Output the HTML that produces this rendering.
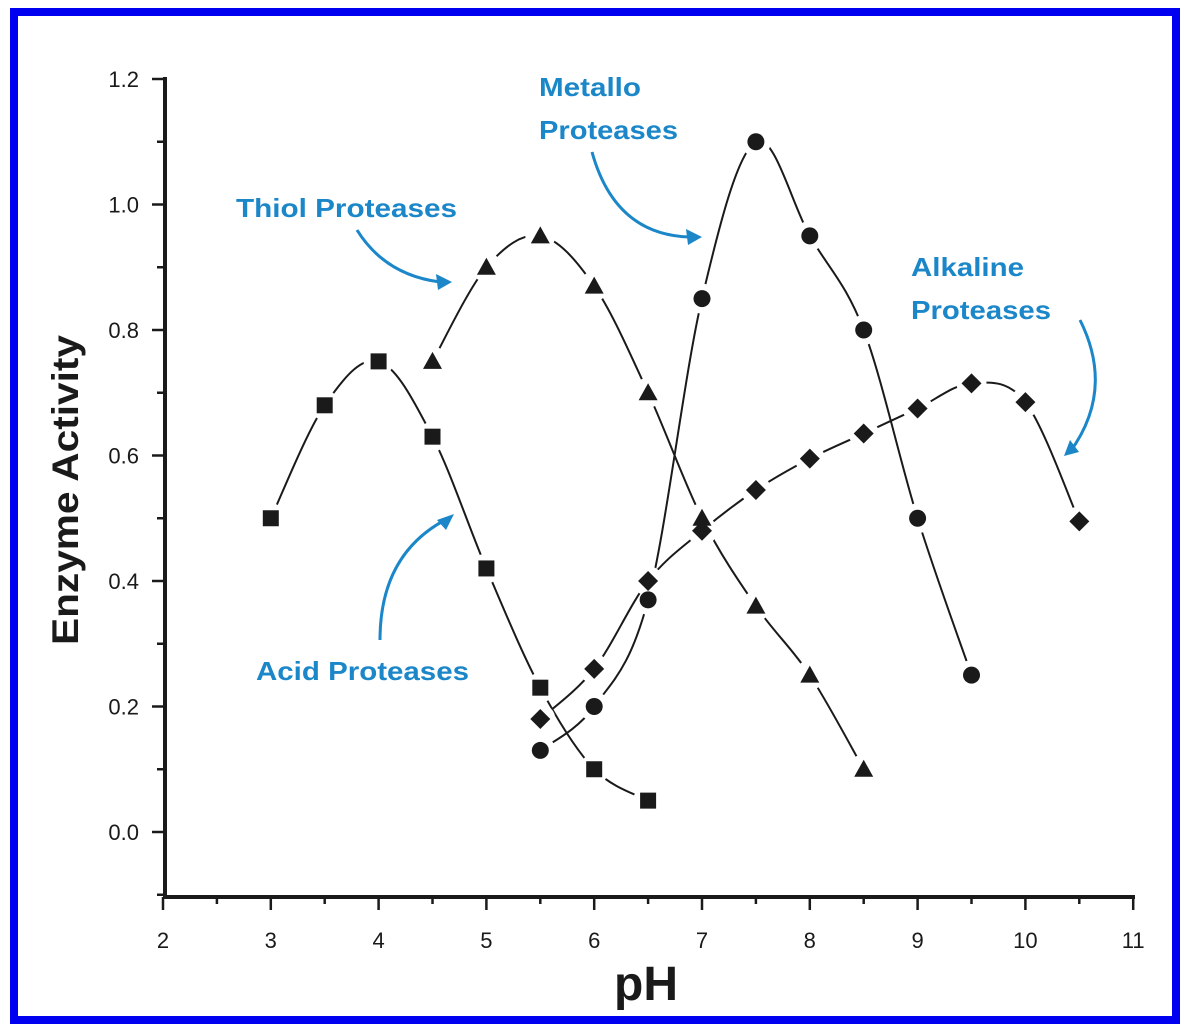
<!DOCTYPE html>
<html><head><meta charset="utf-8"><style>
html,body{margin:0;padding:0;background:#fff}
svg{display:block;font-family:"Liberation Sans",Arial,sans-serif}
</style></head><body>
<svg id="s" width="1188" height="1035" viewBox="0 0 1188 1035" xmlns="http://www.w3.org/2000/svg">
<rect x="14" y="12" width="1162" height="1008" fill="#fff" stroke="#0000f0" stroke-width="8"/>
<g stroke="#1a1a1a" fill="none">
<line x1="165" y1="77" x2="165" y2="899" stroke-width="4"/>
<line x1="163" y1="897" x2="1135" y2="897" stroke-width="4"/>
</g>
<g id="ticks" stroke="#1a1a1a" stroke-width="2.5"></g>
<g id="tl" font-size="22" fill="#1a1a1a"></g>
<g id="curves" stroke="#1a1a1a" stroke-width="2" fill="none"></g>
<g id="marks" fill="#1a1a1a"></g>
<text x="646" y="1000" font-size="48" font-weight="bold" text-anchor="middle" fill="#1a1a1a">pH</text>
<text transform="translate(78,490) rotate(-90)" font-size="37" font-weight="bold" text-anchor="middle" fill="#1a1a1a" textLength="310" lengthAdjust="spacingAndGlyphs">Enzyme Activity</text>
<g font-size="26" font-weight="bold" fill="#1b87c9">
<text x="236" y="217" textLength="221" lengthAdjust="spacingAndGlyphs">Thiol Proteases</text>
<text x="539" y="96" textLength="102" lengthAdjust="spacingAndGlyphs">Metallo</text>
<text x="539" y="139" textLength="139" lengthAdjust="spacingAndGlyphs">Proteases</text>
<text x="911" y="276" textLength="113" lengthAdjust="spacingAndGlyphs">Alkaline</text>
<text x="911" y="319" textLength="140" lengthAdjust="spacingAndGlyphs">Proteases</text>
<text x="256" y="680" textLength="213" lengthAdjust="spacingAndGlyphs">Acid Proteases</text>
</g>
<g stroke="#1b87c9" stroke-width="3" fill="none">
<path d="M357,230 Q385,275 440,282"/>
<path d="M592,152 Q615,235 690,237"/>
<path d="M1080,320 Q1115,390 1070,452"/>
<path d="M380,640 Q380,555 445,520"/>
</g>
<g fill="#1b87c9">
<polygon points="452,282 436,274 438,290"/>
<polygon points="702,237 686,229 688,245"/>
<polygon points="1064,456 1070,440 1079,452"/>
<polygon points="454,514 446,530 437,520"/>
</g>
</svg>
<script>
var NS="http://www.w3.org/2000/svg";
function px(x){return 163+(x-2)*107.8}
function py(v){return 832-v*627.5}
function el(p,t,a){var e=document.createElementNS(NS,t);for(var k in a)e.setAttribute(k,a[k]);document.getElementById(p).appendChild(e);return e}
for(var x=2;x<=11;x+=0.5){var maj=(x%1==0);el("ticks","line",{x1:px(x),y1:897,x2:px(x),y2:maj?910:904});
 if(maj){var t=el("tl","text",{x:px(x),y:948,"text-anchor":"middle"});t.textContent=x;}}
for(var v=-0.1;v<=1.21;v+=0.1){var m=Math.abs(Math.round(v*10)%2)==0&&v>-0.05;el("ticks","line",{x1:m?152:157,y1:py(v),x2:165,y2:py(v)});
 if(m){var t=el("tl","text",{x:139,y:py(v)+8,"text-anchor":"end"});t.textContent=v.toFixed(1);}}
var S=[
 ["sq",[[3,.5],[3.5,.68],[4,.75],[4.5,.63],[5,.42],[5.5,.23],[6,.10],[6.5,.05]]],
 ["tri",[[4.5,.75],[5,.9],[5.5,.95],[6,.87],[6.5,.70],[7,.50],[7.5,.36],[8,.25],[8.5,.10]]],
 ["ci",[[5.5,.13],[6,.20],[6.5,.37],[7,.85],[7.5,1.1],[8,.95],[8.5,.80],[9,.50],[9.5,.25]]],
 ["di",[[5.5,.18],[6,.26],[6.5,.40],[7,.48],[7.5,.545],[8,.595],[8.5,.635],[9,.675],[9.5,.715],[10,.685],[10.5,.495]]]];
S.forEach(function(s){
 var P=s[1].map(function(p){return [px(p[0]),py(p[1])]});
 var d="M"+P[0][0]+","+P[0][1];
 for(var i=0;i<P.length-1;i++){var p0=P[i-1]||P[i],p1=P[i],p2=P[i+1],p3=P[i+2]||P[i+1];
  d+=" C"+(p1[0]+(p2[0]-p0[0])/6)+","+(p1[1]+(p2[1]-p0[1])/6)+" "+(p2[0]-(p3[0]-p1[0])/6)+","+(p2[1]-(p3[1]-p1[1])/6)+" "+p2[0]+","+p2[1];}
 el("curves","path",{d:d});
 P.forEach(function(p){var x=p[0],y=p[1];
  el("curves","circle",{cx:x,cy:y,r:15,fill:"#fff",stroke:"none"});
  if(s[0]=="sq")el("marks","rect",{x:x-8,y:y-8,width:16,height:16});
  else if(s[0]=="tri")el("marks","polygon",{points:(x-9.5)+","+(y+7.5)+" "+(x+9.5)+","+(y+7.5)+" "+x+","+(y-9.5)});
  else if(s[0]=="ci")el("marks","circle",{cx:x,cy:y,r:8.5});
  else el("marks","polygon",{points:x+","+(y-10)+" "+(x+10)+","+y+" "+x+","+(y+10)+" "+(x-10)+","+y});
 });
});
</script>
</body></html>
